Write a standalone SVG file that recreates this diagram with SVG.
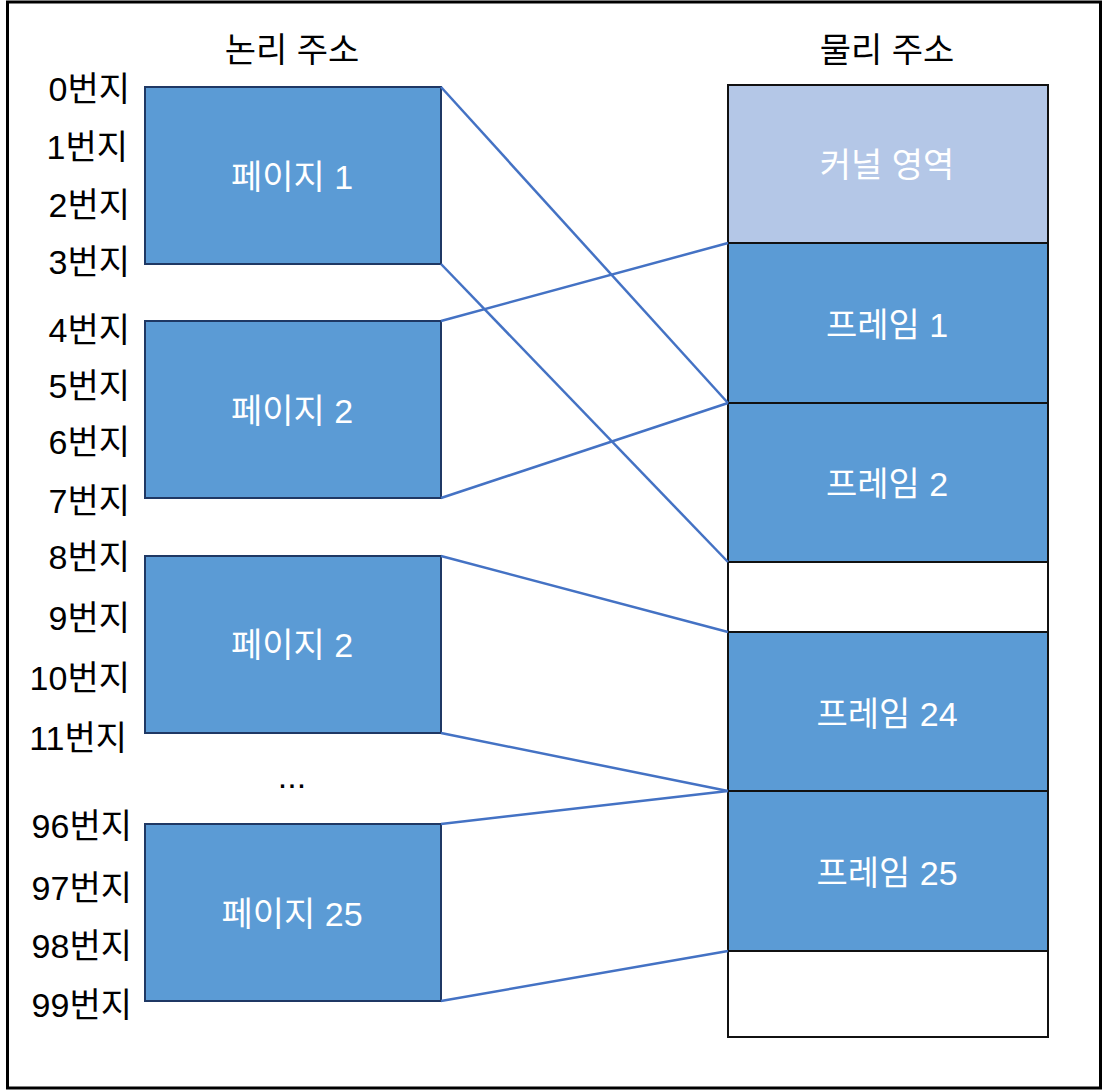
<svg xmlns="http://www.w3.org/2000/svg" width="1107" height="1091" viewBox="0 0 1107 1091">
<style>
text{font-family:"Liberation Sans","Noto Sans CJK KR",sans-serif;font-size:34px}
.lbl{fill:#000;text-anchor:end;dominant-baseline:central}
.ttl{fill:#000;text-anchor:middle;dominant-baseline:central}
.in{fill:#fff;text-anchor:middle;dominant-baseline:central}
.page{fill:#5b9bd5;stroke:#1f3864;stroke-width:2}
.frame{fill:#5b9bd5;stroke:#111;stroke-width:2}
.empty{fill:#fff;stroke:#111;stroke-width:2}
.kern{fill:#b4c7e7;stroke:#111;stroke-width:2}
.conn line{stroke:#4472c4;stroke-width:2.5}
</style>
<rect x="0" y="0" width="1107" height="1091" fill="#fff"/>
<rect x="7.5" y="2" width="1093" height="1086" fill="none" stroke="#000" stroke-width="3"/>
<text class="ttl" x="292" y="50">논리 주소</text>
<text class="ttl" x="887" y="50">물리 주소</text>
<g id="addr-labels">
<text class="lbl" x="130" y="89">0번지</text>
<text class="lbl" x="128" y="147">1번지</text>
<text class="lbl" x="130" y="205">2번지</text>
<text class="lbl" x="130" y="262">3번지</text>
<text class="lbl" x="130" y="330">4번지</text>
<text class="lbl" x="130" y="386">5번지</text>
<text class="lbl" x="130" y="442">6번지</text>
<text class="lbl" x="130" y="501">7번지</text>
<text class="lbl" x="130" y="557">8번지</text>
<text class="lbl" x="130" y="618">9번지</text>
<text class="lbl" x="130" y="678">10번지</text>
<text class="lbl" x="127" y="738">11번지</text>
<text class="lbl" x="132" y="826">96번지</text>
<text class="lbl" x="132" y="888">97번지</text>
<text class="lbl" x="132" y="946">98번지</text>
<text class="lbl" x="132" y="1005">99번지</text>
</g>
<text class="ttl" x="292" y="776">...</text>
<g id="page1"><rect class="page" x="145" y="87" width="296" height="177"/><text class="in" x="292" y="177">페이지 1</text></g>
<g id="page2"><rect class="page" x="145" y="321" width="296" height="177"/><text class="in" x="292" y="411">페이지 2</text></g>
<g id="page3"><rect class="page" x="145" y="556" width="296" height="177"/><text class="in" x="292" y="645">페이지 2</text></g>
<g id="page25"><rect class="page" x="145" y="824" width="296" height="177"/><text class="in" x="292" y="914">페이지 25</text></g>
<g id="kernel"><rect class="kern" x="728" y="85" width="320" height="158"/><text class="in" x="887" y="165">커널 영역</text></g>
<g id="frame1"><rect class="frame" x="728" y="243" width="320" height="160"/><text class="in" x="887" y="325">프레임 1</text></g>
<g id="frame2"><rect class="frame" x="728" y="403" width="320" height="159"/><text class="in" x="887" y="484">프레임 2</text></g>
<g id="empty1"><rect class="empty" x="728" y="562" width="320" height="70"/></g>
<g id="frame24"><rect class="frame" x="728" y="632" width="320" height="159"/><text class="in" x="887" y="714">프레임 24</text></g>
<g id="frame25"><rect class="frame" x="728" y="791" width="320" height="160"/><text class="in" x="887" y="873">프레임 25</text></g>
<g id="empty2"><rect class="empty" x="728" y="951" width="320" height="86"/></g>
<g id="connectors" class="conn">
<line x1="441" y1="87" x2="728" y2="403"/>
<line x1="441" y1="264" x2="728" y2="562"/>
<line x1="441" y1="321" x2="728" y2="243"/>
<line x1="441" y1="498" x2="728" y2="403"/>
<line x1="441" y1="556" x2="728" y2="632"/>
<line x1="441" y1="733" x2="728" y2="791"/>
<line x1="441" y1="824" x2="728" y2="791"/>
<line x1="441" y1="1001" x2="728" y2="951"/>
</g>
</svg>
